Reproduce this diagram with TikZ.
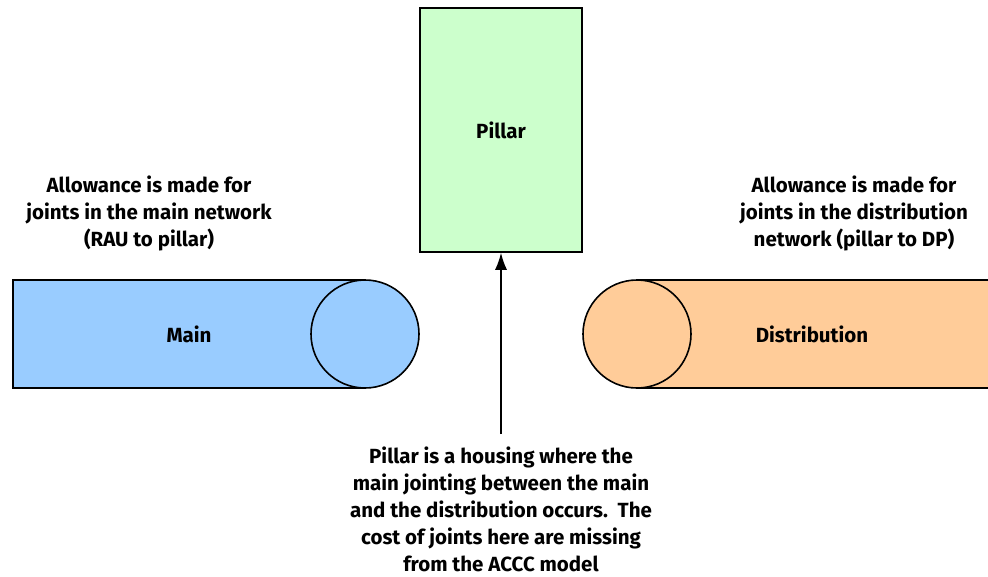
\documentclass[tikz,border=0pt]{standalone}
\usepackage{fontspec}
\setmainfont{Fira Sans}
\usetikzlibrary{arrows.meta,positioning}
\definecolor{pillargreen}{RGB}{204,255,204}
\definecolor{mainblue}{RGB}{153,204,255}
\definecolor{distorange}{RGB}{255,204,153}
\tikzset{
  pillarbox/.style={rectangle, draw=black, line width=1.6pt, fill=pillargreen,
                    minimum width=162pt, minimum height=244pt, font=\bfseries\fontsize{20.5}{27}\selectfont},
  pipe/.style     ={draw=black, line width=1.6pt},
  lbl/.style      ={font=\bfseries\fontsize{20.5}{27}\selectfont, align=center, inner sep=0pt},
  note/.style     ={font=\bfseries\fontsize{20.5}{27}\selectfont, align=center, inner sep=1pt},
  flow/.style     ={-{Latex[length=17pt,width=12pt]}, line width=1.4pt, draw=black}
}
\begin{document}
\begin{tikzpicture}[x=1pt, y=-1pt]
\useasboundingbox (0,0) rectangle (988,576);
% pillar
\node[pillarbox] (pillar) at (501,130) {Pillar};
% main cable
\draw[pipe, fill=mainblue] (13,280) rectangle (365,388);
\draw[pipe, fill=mainblue] (365,334) circle[radius=54];
\node[lbl] (main) at (189,334) {Main};
% distribution cable
\draw[pipe, fill=distorange] (637,280) rectangle (1000,388);
\draw[pipe, fill=distorange] (637,334) circle[radius=54];
\node[lbl] (dist) at (812,334) {Distribution};
% notes
\node[note] (mainnote) at (149,213) {Allowance is made for\\joints in the main network\\(RAU to pillar)};
\node[note] (distnote) at (854,213) {Allowance is made for\\joints in the distribution\\network (pillar to DP)};
\node[note, anchor=north] (pillarnote) at (501,446) {Pillar is a housing where the\\main jointing between the main\\and the distribution occurs.~~The\\cost of joints here are missing\\from the ACCC model};

\draw[flow, shorten <=12pt] (pillarnote) -- (pillar);
\end{tikzpicture}
\end{document}
